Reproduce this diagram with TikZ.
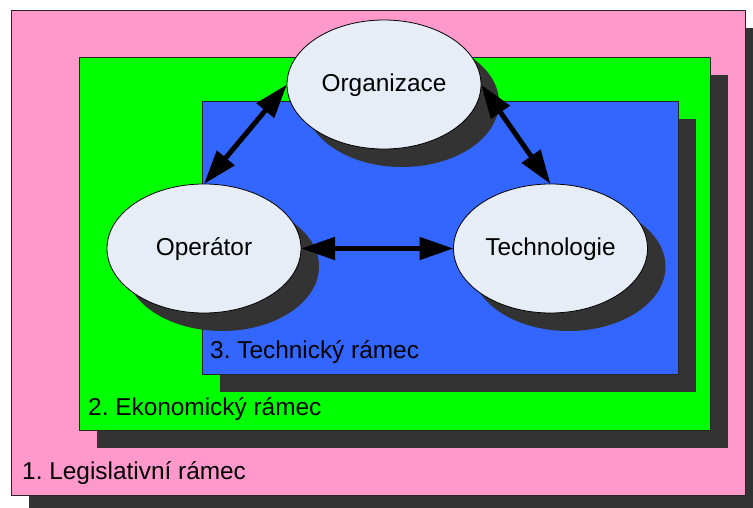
\documentclass[tikz,border=0pt]{standalone}
\usepackage{fontspec}
\setmainfont{Liberation Sans}
\usetikzlibrary{shapes.geometric,shadows,arrows.meta}
\frenchspacing

\definecolor{legpink}{RGB}{255,153,204}
\definecolor{ekogreen}{RGB}{0,255,0}
\definecolor{techblue}{RGB}{51,102,255}
\definecolor{bubble}{RGB}{231,237,247}
\definecolor{shade}{RGB}{51,51,51}

\tikzset{
  frame/.style={rectangle, draw=black!85, line width=0.9pt, inner sep=0pt, outer sep=0pt,
    drop shadow={shadow xshift=18pt, shadow yshift=-18pt, opacity=1, fill=shade}},
  bubblenode/.style={ellipse, draw=black, line width=0.8pt, fill=bubble,
    minimum width=194pt, minimum height=129pt, inner sep=0pt, outer sep=0pt,
    text height=14pt, text depth=0pt,
    font=\fontsize{24.4}{29}\selectfont,
    drop shadow={shadow xshift=18pt, shadow yshift=-18pt, opacity=1, fill=shade}},
  framelabel/.style={anchor=base west, inner sep=0pt, font=\fontsize{24.4}{29}\selectfont},
  link/.style={line width=5pt, {Triangle[length=34pt,width=22pt]}-{Triangle[length=34pt,width=22pt]}}
}

\begin{document}
\begin{tikzpicture}[x=1pt,y=-1pt]
  \useasboundingbox (0,0) rectangle (753,508);

  % nested frames
  \node[frame, fill=legpink, minimum width=734pt, minimum height=485pt] (leg) at (378,252.5) {};
  \node[frame, fill=ekogreen, minimum width=631pt, minimum height=373pt] (eko) at (394.5,243.5) {};
  \node[frame, fill=techblue, minimum width=476pt, minimum height=273pt] (tech) at (440,237.5) {};

  \node[framelabel] (legtext) at (22,479) {1. Legislativní rámec};
  \node[framelabel] (ekotext) at (88,415) {2. Ekonomický rámec};
  \node[framelabel] (techtext) at (210,358) {3. Technický rámec};

  % actors
  \node[bubblenode] (org) at (384,84.5) {Organizace};
  \node[bubblenode] (op) at (204,248.5) {Operátor};
  \node[bubblenode] (tg) at (550.5,248.5) {Technologie};

  % relations
  \draw[link] (org.west) -- (op.north);
  \draw[link] (org.east) -- (tg.north);
  \draw[link] (op.east) -- (tg.west);
\end{tikzpicture}
\end{document}
